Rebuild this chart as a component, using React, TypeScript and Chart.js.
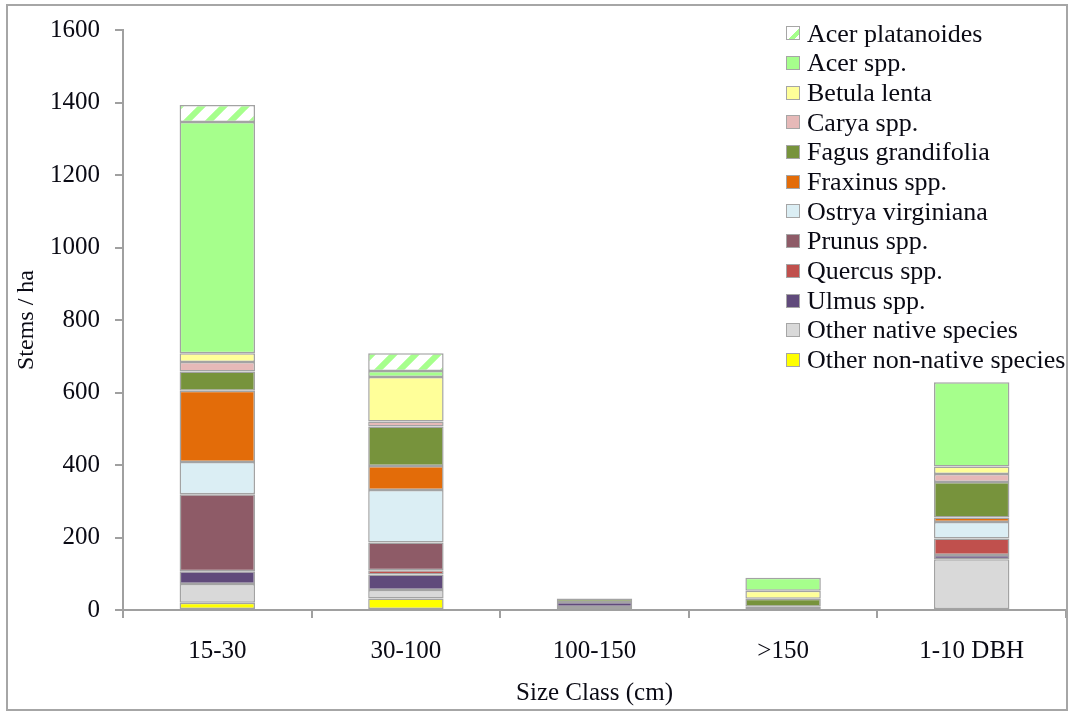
import React, { useEffect, useRef } from 'react';
import { Chart, registerables } from 'chart.js';

Chart.register(...registerables);

const categories = ['15-30', '30-100', '100-150', '>150', '1-10 DBH'];

// stacked bottom -> top
const otherNonNative = [20, 32, 8, 0, 0];
const otherNative = [52, 23, 0, 0, 140];
const ulmus = [35, 43, 14, 0, 12];
const quercus = [0, 12, 0, 0, 45];
const prunus = [212, 76, 0, 9, 0];
const ostrya = [89, 145, 0, 0, 46];
const fraxinus = [197, 66, 0, 0, 12];
const fagus = [53, 109, 10, 22, 98];
const carya = [26, 14, 0, 0, 22];
const betula = [24, 123, 0, 22, 21];
const acerSpp = [638, 16, 0, 36, 232];
const acerPlatanoides = [47, 49, 0, 0, 0];

const yTicks = [0, 200, 400, 600, 800, 1000, 1200, 1400, 1600];

const seriesNames = [
  'Other non-native species',
  'Other native species',
  'Ulmus spp.',
  'Quercus spp.',
  'Prunus spp.',
  'Ostrya virginiana',
  'Fraxinus spp.',
  'Fagus grandifolia',
  'Carya spp.',
  'Betula lenta',
  'Acer spp.',
  'Acer platanoides',
];
const seriesValues = [
  otherNonNative, otherNative, ulmus, quercus, prunus, ostrya,
  fraxinus, fagus, carya, betula, acerSpp, acerPlatanoides,
];
const seriesColors = [
  '#ffff00', '#d9d9d9', '#604a7b', '#c0504d', '#8e5b67', '#dbeef4',
  '#e36c09', '#77933c', '#e6b9b8', '#ffff99', '#a6ff8c', 'pattern',
];

const GREEN = '#a6ff8c';
const AXIS = '#a0a0a0';
const TEXT = '#0a0a14';
const FONT = '"Liberation Serif", "Times New Roman", serif';

function makePattern(ctx: CanvasRenderingContext2D) {
  const s = 22;
  const c = document.createElement('canvas');
  c.width = s;
  c.height = s;
  const g = c.getContext('2d')!;
  g.fillStyle = '#ffffff';
  g.fillRect(0, 0, s, s);
  g.strokeStyle = GREEN;
  g.lineWidth = 6;
  g.beginPath();
  for (const k of [-s, 0, s]) {
    g.moveTo(k - 2, s + 2);
    g.lineTo(k + s + 2, -2);
  }
  g.stroke();
  return ctx.createPattern(c, 'repeat')!;
}

export default function App() {
  const ref = useRef<HTMLCanvasElement>(null);

  useEffect(() => {
    const canvas = ref.current!;
    const ctx = canvas.getContext('2d')!;
    const pattern = makePattern(ctx);
    const chart = new Chart(canvas, {
      type: 'bar',
      data: {
        labels: categories,
        datasets: seriesNames.map((name, i) => ({
          label: name,
          data: seriesValues[i].map((v) => (v === 0 ? null : v)),
          backgroundColor: seriesColors[i] === 'pattern' ? pattern : seriesColors[i],
          borderColor: '#a3a3a3',
          borderWidth: 1.5,
          borderSkipped: false,
          categoryPercentage: 1,
          barPercentage: 0.4,
        })),
      },
      options: {
        animation: false,
        responsive: true,
        maintainAspectRatio: false,
        layout: { padding: { left: 0, top: 30, right: 2, bottom: 0 } },
        plugins: {
          legend: { display: false },
          tooltip: { enabled: false },
        },
        scales: {
          x: {
            stacked: true,
            grid: {
              display: true,
              drawOnChartArea: false,
              drawTicks: true,
              tickLength: 8,
              color: AXIS,
              lineWidth: 2,
            },
            border: { display: true, color: AXIS, width: 2 },
            ticks: {
              color: TEXT,
              font: { family: FONT, size: 25 },
              padding: 18,
              maxRotation: 0,
            },
            title: {
              display: true,
              text: 'Size Class (cm)',
              color: TEXT,
              font: { family: FONT, size: 25 },
              padding: { top: 0, bottom: 3 },
            },
            afterFit: (s: any) => {
              s.height = 101;
            },
          },
          y: {
            stacked: true,
            min: 0,
            max: 1600,
            afterBuildTicks: (s: any) => {
              s.ticks = yTicks.map((v) => ({ value: v }));
            },
            grid: {
              display: true,
              drawOnChartArea: false,
              drawTicks: true,
              tickLength: 8,
              color: AXIS,
              lineWidth: 2,
            },
            border: { display: true, color: AXIS, width: 2 },
            ticks: {
              color: TEXT,
              font: { family: FONT, size: 25 },
              padding: 15,
              callback: (v: any) => String(v),
            },
            title: {
              display: true,
              text: 'Stems / ha',
              color: TEXT,
              font: { family: FONT, size: 24 },
              padding: { top: 12, bottom: 0 },
            },
            afterFit: (s: any) => {
              s.width = 123;
            },
          },
        },
      },
    });
    return () => chart.destroy();
  }, []);

  const legendOrder = [...seriesNames].reverse();
  const legendColors = [...seriesColors].reverse();

  return (
    <div style={{ position: 'fixed', left: 0, top: 0, width: 1068, height: 711, background: '#fff', overflow: 'hidden' }}>
      <canvas ref={ref} />
      <div
        style={{
          position: 'absolute',
          left: 6,
          top: 4,
          width: 1062,
          height: 707,
          border: '2px solid #a6a6a6',
          boxSizing: 'border-box',
          pointerEvents: 'none',
        }}
      />
      <div
        style={{
          position: 'absolute',
          left: 786,
          top: 18.5,
          fontFamily: FONT,
          fontSize: 26,
          color: TEXT,
          whiteSpace: 'nowrap',
        }}
      >
        {legendOrder.map((name, i) => (
          <div key={name} style={{ display: 'flex', alignItems: 'center', height: 29.7 }}>
            <span
              style={{
                display: 'inline-block',
                width: 14,
                height: 14,
                boxSizing: 'border-box',
                border: '1.5px solid #a6a6a6',
                marginRight: 7,
                background:
                  legendColors[i] === 'pattern'
                    ? `linear-gradient(135deg, #ffffff 55%, ${GREEN} 55%, ${GREEN} 80%, #ffffff 80%)`
                    : legendColors[i],
              }}
            />
            <span style={{ lineHeight: '29.7px' }}>{name}</span>
          </div>
        ))}
      </div>
    </div>
  );
}
